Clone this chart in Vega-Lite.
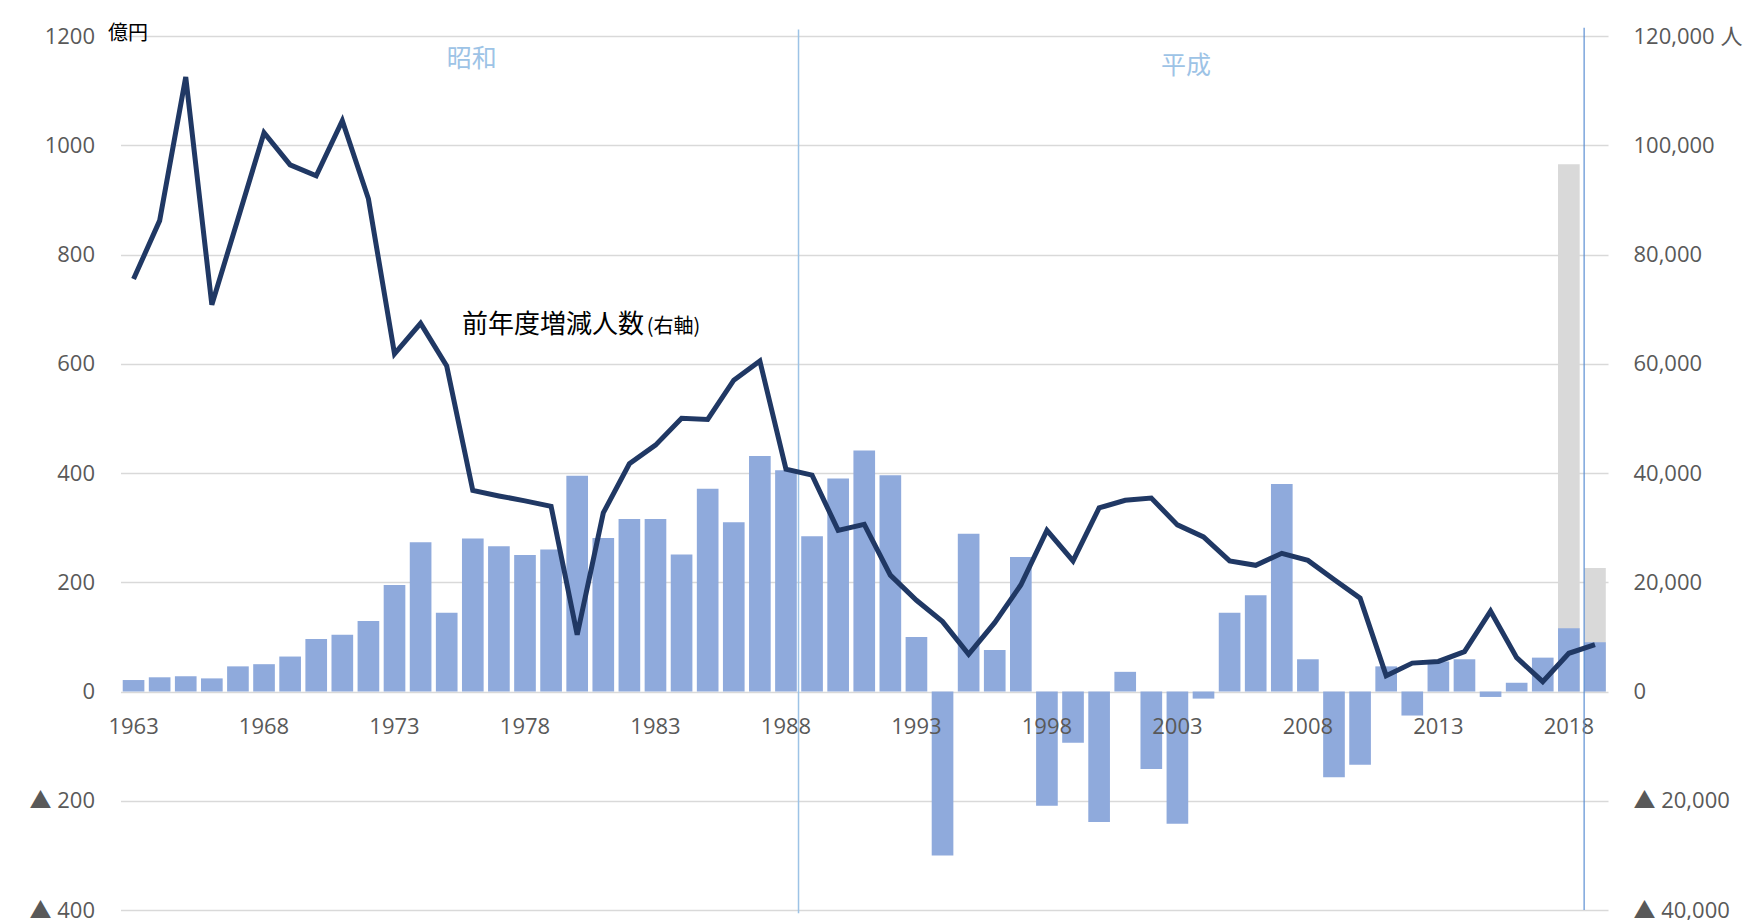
{
  "$schema": "https://vega.github.io/schema/vega-lite/v6.json",
  "width": 1487.5,
  "height": 874,
  "autosize": {"type": "none"},
  "padding": {"left": 120.5, "top": 36, "right": 144, "bottom": 10},
  "background": "white",
  "config": {
    "view": {"stroke": null},
    "font": "Open Sans, Noto Sans CJK JP",
    "axis": {"labelFont": "Open Sans, Noto Sans CJK JP", "labelFontSize": 22, "labelColor": "#595959", "domain": false, "ticks": false}
  },
  "data": {"values": [
    {"year": 1963, "amount": 21, "people": 75500},
    {"year": 1964, "amount": 26, "people": 86200},
    {"year": 1965, "amount": 28, "people": 112500},
    {"year": 1966, "amount": 24, "people": 70800},
    {"year": 1967, "amount": 46, "people": 86500},
    {"year": 1968, "amount": 50, "people": 102300},
    {"year": 1969, "amount": 64, "people": 96400},
    {"year": 1970, "amount": 96, "people": 94400},
    {"year": 1971, "amount": 104, "people": 104500},
    {"year": 1972, "amount": 129, "people": 90200},
    {"year": 1973, "amount": 195, "people": 61800},
    {"year": 1974, "amount": 273, "people": 67400},
    {"year": 1975, "amount": 144, "people": 59600},
    {"year": 1976, "amount": 280, "people": 36800},
    {"year": 1977, "amount": 266, "people": 35800},
    {"year": 1978, "amount": 250, "people": 34900},
    {"year": 1979, "amount": 260, "people": 33900},
    {"year": 1980, "amount": 395, "people": 10400},
    {"year": 1981, "amount": 281, "people": 32700},
    {"year": 1982, "amount": 316, "people": 41700},
    {"year": 1983, "amount": 316, "people": 45100},
    {"year": 1984, "amount": 251, "people": 50000},
    {"year": 1985, "amount": 371, "people": 49800},
    {"year": 1986, "amount": 310, "people": 57000},
    {"year": 1987, "amount": 431, "people": 60500},
    {"year": 1988, "amount": 405, "people": 40700},
    {"year": 1989, "amount": 284, "people": 39600},
    {"year": 1990, "amount": 390, "people": 29500},
    {"year": 1991, "amount": 441, "people": 30600},
    {"year": 1992, "amount": 396, "people": 21300},
    {"year": 1993, "amount": 100, "people": 16700},
    {"year": 1994, "amount": -300, "people": 12800},
    {"year": 1995, "amount": 289, "people": 6800},
    {"year": 1996, "amount": 76, "people": 12600},
    {"year": 1997, "amount": 246, "people": 19500},
    {"year": 1998, "amount": -209, "people": 29500},
    {"year": 1999, "amount": -94, "people": 23900},
    {"year": 2000, "amount": -239, "people": 33600},
    {"year": 2001, "amount": 36, "people": 35000},
    {"year": 2002, "amount": -142, "people": 35400},
    {"year": 2003, "amount": -242, "people": 30500},
    {"year": 2004, "amount": -13, "people": 28300},
    {"year": 2005, "amount": 144, "people": 23900},
    {"year": 2006, "amount": 176, "people": 23100},
    {"year": 2007, "amount": 380, "people": 25300},
    {"year": 2008, "amount": 59, "people": 24000},
    {"year": 2009, "amount": -157, "people": 20500},
    {"year": 2010, "amount": -134, "people": 17100},
    {"year": 2011, "amount": 46, "people": 2900},
    {"year": 2012, "amount": -44, "people": 5200},
    {"year": 2013, "amount": 55, "people": 5500},
    {"year": 2014, "amount": 59, "people": 7300},
    {"year": 2015, "amount": -10, "people": 14700},
    {"year": 2016, "amount": 16, "people": 6200},
    {"year": 2017, "amount": 62, "people": 1800},
    {"year": 2018, "amount": 116, "plan": 965, "people": 7000},
    {"year": 2019, "amount": 90, "plan": 226, "people": 8600}
  ]},
  "encoding": {
    "x": {"field": "year", "type": "ordinal", "axis": null, "scale": {"paddingInner": 0.17, "paddingOuter": 0.085}}
  },
  "layer": [
    {
      "layer": [
        {
          "transform": [{"fold": ["plan", "amount"], "as": ["series", "value"]}],
          "mark": {"type": "bar"},
          "encoding": {
            "y": {"field": "value", "type": "quantitative", "stack": null,
              "scale": {"domain": [-400, 1200], "nice": false, "zero": false},
              "axis": {"orient": "left", "values": [-400, -200, 0, 200, 400, 600, 800, 1000, 1200],
                "labelExpr": "datum.value < 0 ? '▲ ' + (-datum.value) : '' + datum.value",
                "labelPadding": 26, "grid": true, "gridColor": "#D9D9D9", "gridWidth": 1.5,
                "title": "億円", "titleAngle": 0, "titleX": -13, "titleY": -3, "titleAlign": "left", "titleBaseline": "middle",
                "titleFont": "Noto Sans CJK JP", "titleFontSize": 20, "titleFontWeight": "normal", "titleColor": "#000000"}},
            "color": {"field": "series", "type": "nominal", "scale": {"domain": ["plan", "amount"], "range": ["#D9D9D9", "#8FAADC"]}, "legend": null}
          }
        },
        {
          "transform": [{"filter": "datum.year % 5 == 3"}],
          "mark": {"type": "text", "dy": 35, "fontSize": 22, "color": "#595959", "font": "Open Sans", "baseline": "middle", "align": "center"},
          "encoding": {
            "y": {"datum": 0, "type": "quantitative"},
            "text": {"field": "year", "type": "nominal"}
          }
        },
        {
          "data": {"values": [{"era": "昭和/平成"}]},
          "mark": {"type": "rule", "color": "#9DC3E6", "strokeWidth": 1.5},
          "encoding": {
            "x": {"datum": 1988, "type": "ordinal", "bandPosition": 1.08},
            "y": {"datum": 1212, "type": "quantitative"},
            "y2": {"datum": -406}
          }
        },
        {
          "data": {"values": [{"era": "令和"}]},
          "mark": {"type": "rule", "color": "#5B8FD3", "strokeWidth": 1.2},
          "encoding": {
            "x": {"datum": 2019, "type": "ordinal", "bandPosition": 0},
            "y": {"datum": 1215, "type": "quantitative"},
            "y2": {"datum": -400}
          }
        },
        {
          "data": {"values": [{"label": "昭和"}]},
          "mark": {"type": "text", "fontSize": 25, "color": "#9DC3E6", "font": "Noto Sans CJK JP", "align": "center", "baseline": "middle"},
          "encoding": {
            "x": {"datum": 1976, "type": "ordinal", "bandPosition": 0.45},
            "y": {"datum": 1158, "type": "quantitative"},
            "text": {"field": "label"}
          }
        },
        {
          "data": {"values": [{"label": "平成"}]},
          "mark": {"type": "text", "fontSize": 25, "color": "#9DC3E6", "font": "Noto Sans CJK JP", "align": "center", "baseline": "middle"},
          "encoding": {
            "x": {"datum": 2003, "type": "ordinal", "bandPosition": 0.9},
            "y": {"datum": 1145, "type": "quantitative"},
            "text": {"field": "label"}
          }
        },
        {
          "data": {"values": [{"label": "前年度増減人数"}]},
          "mark": {"type": "text", "fontSize": 26, "color": "#000000", "font": "Noto Sans CJK JP", "align": "left", "baseline": "alphabetic"},
          "encoding": {
            "x": {"datum": 1976, "type": "ordinal", "bandPosition": 0},
            "y": {"datum": 657, "type": "quantitative"},
            "text": {"field": "label"}
          }
        },
        {
          "data": {"values": [{"label": "(右軸)"}]},
          "mark": {"type": "text", "fontSize": 20, "color": "#000000", "font": "Noto Sans CJK JP", "align": "left", "baseline": "alphabetic"},
          "encoding": {
            "x": {"datum": 1983, "type": "ordinal", "bandPosition": 0.1},
            "y": {"datum": 657, "type": "quantitative"},
            "text": {"field": "label"}
          }
        }
      ]
    },
    {
      "mark": {"type": "line", "color": "#203864", "strokeWidth": 5},
      "encoding": {
        "y": {"field": "people", "type": "quantitative",
          "scale": {"domain": [-40000, 120000], "nice": false, "zero": false},
          "axis": {"orient": "right", "values": [-40000, -20000, 0, 20000, 40000, 60000, 80000, 100000, 120000],
            "labelExpr": "datum.value < 0 ? '▲ ' + format(-datum.value, ',') : (datum.value == 120000 ? '120,000 人' : format(datum.value, ','))",
            "labelPadding": 25, "grid": false, "title": null}}
      }
    }
  ],
  "resolve": {"scale": {"y": "independent"}, "axis": {"y": "independent"}}
}
